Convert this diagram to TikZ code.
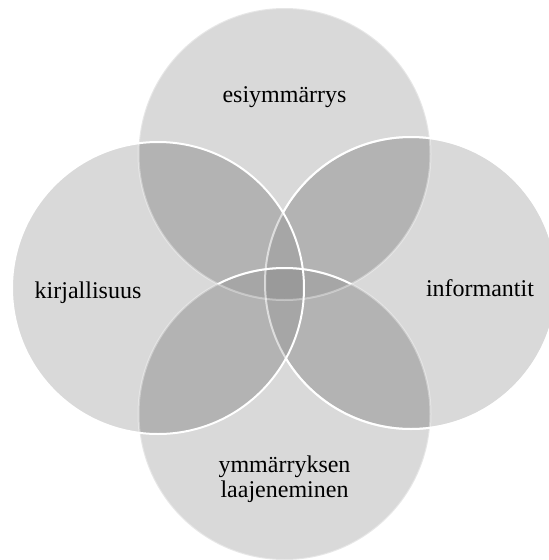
\documentclass[tikz,border=0pt]{standalone}
\usepackage{fontspec}
\setmainfont{Liberation Serif}
\begin{document}
\begin{tikzpicture}[x=1pt,y=-1pt]
\definecolor{cone}{HTML}{D9D9D9}
\definecolor{ctwo}{HTML}{B3B3B3}
\definecolor{cthree}{HTML}{A6A6A6}
\definecolor{cfour}{HTML}{9A9A9A}
\tikzset{
  lbl/.style={font=\fontsize{24}{25}\selectfont, text=black, align=center, inner sep=0pt},
  rim/.style={draw=white, line width=2pt},
  dimrim/.style={draw=white, draw opacity=0.35, line width=2pt},
}
\useasboundingbox (0,0) rectangle (549,560);
\clip (0,0) rectangle (549,560);
\coordinate (cT) at (284.5,154);
\coordinate (cB) at (284.5,414);
\coordinate (cL) at (158,288);
\coordinate (cR) at (411,283);
\def\rr{146}
% single
\foreach \c in {cT,cB,cL,cR} \fill[cone] (\c) circle[radius=\rr];
% pairs
\foreach \a/\b in {cT/cL,cT/cR,cB/cL,cB/cR,cL/cR,cT/cB} {
  \begin{scope}
    \clip (\a) circle[radius=\rr];
    \fill[ctwo] (\b) circle[radius=\rr];
  \end{scope}
}
% triples
\foreach \a/\b/\d in {cT/cL/cR,cT/cL/cB,cT/cR/cB,cB/cL/cR} {
  \begin{scope}
    \clip (\a) circle[radius=\rr];
    \clip (\b) circle[radius=\rr];
    \fill[cthree] (\d) circle[radius=\rr];
  \end{scope}
}
% quadruple
\begin{scope}
  \clip (cT) circle[radius=\rr];
  \clip (cB) circle[radius=\rr];
  \clip (cL) circle[radius=\rr];
  \fill[cfour] (cR) circle[radius=\rr];
\end{scope}
% outlines
\draw[dimrim] (cT) circle[radius=\rr];
\draw[dimrim] (cB) circle[radius=\rr];
\begin{scope}
  \clip (cT) circle[radius=\rr];
  \draw[rim] (cB) circle[radius=\rr];
\end{scope}
\draw[white, draw opacity=0.6, line width=2pt] (cR) circle[radius=\rr];
\begin{scope}[even odd rule]
  \clip (-10,-10) rectangle (560,570) (cL) circle[radius=\rr];
  \draw[rim] (cR) circle[radius=\rr];
\end{scope}
\draw[rim] (cL) circle[radius=\rr];
% labels
\node[lbl] (tT) at (284.5,97) {esiymmärrys};
\node[lbl] (tL) at (88,293) {kirjallisuus};
\node[lbl] (tR) at (480,288) {informantit};
\node[lbl] (tB) at (284.5,479) {ymmärryksen\\laajeneminen};
\end{tikzpicture}
\end{document}
